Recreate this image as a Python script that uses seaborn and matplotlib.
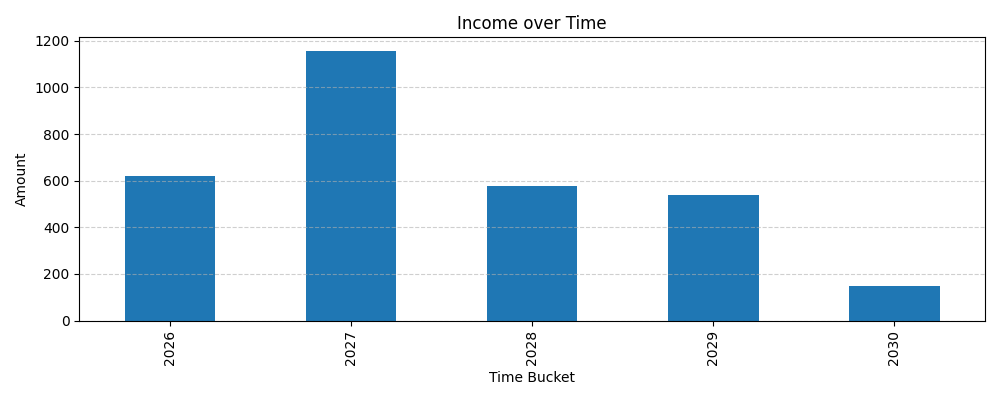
import matplotlib
matplotlib.use("Agg")
import matplotlib.pyplot as plt
import seaborn as sns
import pandas as pd

years = ["2026", "2027", "2028", "2029", "2030"]
income = [618, 1157, 576, 537, 148]

df = pd.DataFrame({"Time Bucket": years, "Amount": income})

fig, ax = plt.subplots(figsize=(10, 4), dpi=100)
sns.barplot(data=df, x="Time Bucket", y="Amount", color="#1f77b4",
            saturation=1, width=0.5, ax=ax)
ax.set_xlim(-0.5, len(years) - 0.5)
ax.set_title("Income over Time")
ax.set_xlabel("Time Bucket")
ax.set_ylabel("Amount")
ax.tick_params(axis="x", rotation=90)
ax.grid(axis="y", linestyle="--", alpha=0.6)
ax.set_axisbelow(False)
plt.tight_layout()
plt.savefig("out.png")
